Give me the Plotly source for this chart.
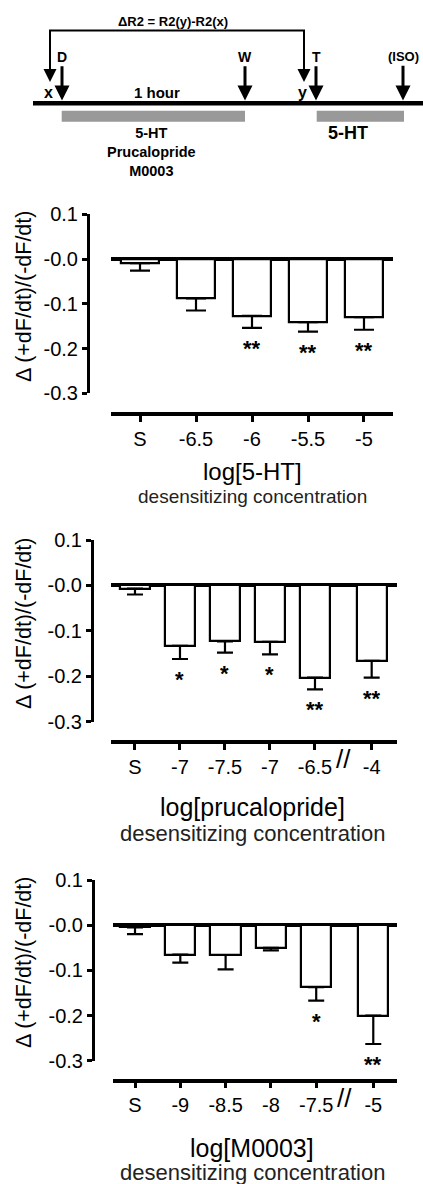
import plotly.graph_objects as go

W, H = 423, 1184
FONT = "Liberation Sans, Arial, Helvetica, sans-serif"

# ---------------- data ----------------
y_tickvals = [0.1, 0.0, -0.1, -0.2, -0.3]
y_ticktext = ["0.1", "-0.0", "-0.1", "-0.2", "-0.3"]
y_title = "Δ (+dF/dt)/(-dF/dt)"
subtitle = "desensitizing concentration"

p1_labels = ["S", "-6.5", "-6", "-5.5", "-5"]
p1_values = [-0.009, -0.088, -0.127, -0.141, -0.130]
p1_errors = [0.017, 0.027, 0.027, 0.021, 0.028]
p1_stars = ["", "", "**", "**", "**"]
p1_title = "log[5-HT]"

p2_labels = ["S", "-7", "-7.5", "-7", "-6.5", "-4"]
p2_values = [-0.007, -0.133, -0.123, -0.124, -0.203, -0.166]
p2_errors = [0.013, 0.029, 0.025, 0.028, 0.026, 0.037]
p2_stars = ["", "*", "*", "*", "**", "**"]
p2_title = "log[prucalopride]"

p3_labels = ["S", "-9", "-8.5", "-8", "-7.5", "-5"]
p3_values = [-0.005, -0.065, -0.066, -0.050, -0.137, -0.200]
p3_errors = [0.015, 0.018, 0.032, 0.006, 0.030, 0.063]
p3_stars = ["", "", "", "", "*", "**"]
p3_title = "log[M0003]"

diagram_formula = "ΔR2 = R2(y)-R2(x)"
diagram_events = ["D", "W", "T", "(ISO)"]
diagram_drugs = "5-HT<br>Prucalopride<br>M0003"
diagram_test = "5-HT"


def px(x):
    return x / W


def py(y):
    return 1 - y / H


fig = go.Figure()

panels = [
    dict(labels=p1_labels, values=p1_values, errors=p1_errors, stars=p1_stars, title=p1_title,
         xdom=(111, 393), ytop=214.3, ybot=393.3, yaxpos=88, xaxpos=414.3, xrange=(-0.518, 4.518),
         brk=None, width=0.69, cap=10, title_y=471.7, sub_y=496.7, title_size=24, sub_size=19,
         ytitle_y=297),
    dict(labels=p2_labels, values=p2_values, errors=p2_errors, stars=p2_stars, title=p2_title,
         xdom=(111, 396.7), ytop=540, ybot=721.7, yaxpos=92, xaxpos=742.3, xrange=(-0.533, 5.816),
         brk=5, width=0.67, cap=8, title_y=806.7, sub_y=833, title_size=25, sub_size=22,
         ytitle_y=624),
    dict(labels=p3_labels, values=p3_values, errors=p3_errors, stars=p3_stars, title=p3_title,
         xdom=(113, 396.7), ytop=880, ybot=1060.7, yaxpos=93, xaxpos=1080.7, xrange=(-0.486, 5.777),
         brk=5, width=0.67, cap=8, title_y=1148, sub_y=1172.7, title_size=25, sub_size=22,
         ytitle_y=963),
]
BREAK_GAP = 0.26


def note(x, y, text, font, **kw):
    fig.add_annotation(x=x, y=y, xref="paper", yref="paper", text=text, showarrow=False,
                       xanchor="center", yanchor="middle", font=font, **kw)


for k, p in enumerate(panels, start=1):
    n = len(p["labels"])
    xs = [i + (BREAK_GAP if (p["brk"] is not None and i >= p["brk"]) else 0) for i in range(n)]
    xa = "x" if k == 1 else f"x{k}"
    ya = "y" if k == 1 else f"y{k}"
    fig.add_trace(go.Bar(
        x=xs, y=p["values"], width=p["width"], xaxis=xa, yaxis=ya,
        marker=dict(color="white", line=dict(color="black", width=2.2)),
        error_y=dict(type="data", symmetric=False, array=[0] * n, arrayminus=p["errors"],
                     color="black", thickness=2.2, width=p["cap"]),
        showlegend=False, hoverinfo="skip",
    ))
    axis_common = dict(showgrid=False, showline=True, linecolor="black", ticks="outside",
                       tickcolor="black", automargin=False,
                       tickfont=dict(family=FONT, size=20, color="black"))
    fig.layout[("xaxis" if k == 1 else f"xaxis{k}")] = dict(
        axis_common, domain=[px(p["xdom"][0]), px(p["xdom"][1])], range=list(p["xrange"]),
        anchor="free", position=py(p["xaxpos"]), linewidth=3.5, ticklen=6, tickwidth=2.5,
        tickmode="array", tickvals=xs, ticktext=p["labels"], zeroline=False, fixedrange=True,
    )
    fig.layout[("yaxis" if k == 1 else f"yaxis{k}")] = dict(
        axis_common, domain=[py(p["ybot"]), py(p["ytop"])], range=[-0.3, 0.1],
        anchor="free", position=px(p["yaxpos"]), linewidth=3, ticklen=5, tickwidth=2.5,
        tickmode="array", tickvals=y_tickvals, ticktext=y_ticktext,
        zeroline=True, zerolinecolor="black", zerolinewidth=3.5, fixedrange=True,
    )
    # significance stars
    for xv, v, e, s in zip(xs, p["values"], p["errors"], p["stars"]):
        if s:
            fig.add_annotation(x=xv, y=v - e, xref=xa, yref=ya, text=s, showarrow=False,
                               xanchor="center", yanchor="top", yshift=-6,
                               font=dict(family=FONT, size=22, color="black", weight="bold"))
    # axis break mark
    if p["brk"] is not None:
        xb = (xs[p["brk"] - 1] + xs[p["brk"]]) / 2
        fig.add_annotation(x=xb, y=py(p["xaxpos"] + 17), xref=xa, yref="paper", text="//",
                           showarrow=False, xanchor="center", yanchor="middle",
                           font=dict(family=FONT, size=26, color="black"))
    # titles
    xmid = px(252)
    note(xmid, py(p["title_y"]), p["title"], dict(family=FONT, size=p["title_size"], color="black"))
    note(xmid, py(p["sub_y"]), subtitle, dict(family=FONT, size=p["sub_size"], color="#222222"))
    note(px(24), py(p["ytitle_y"]), y_title, dict(family=FONT, size=21.5, color="black"),
         textangle=-90)

# ---------------- protocol diagram ----------------
shapes = []
shapes.append(dict(type="line", xref="paper", yref="paper", x0=px(33), x1=px(423),
                   y0=py(103.3), y1=py(103.3), line=dict(color="black", width=4.5)))
shapes.append(dict(type="rect", xref="paper", yref="paper", x0=px(61.7), x1=px(245),
                   y0=py(121.7), y1=py(110.7), fillcolor="#999999", line=dict(width=0)))
shapes.append(dict(type="rect", xref="paper", yref="paper", x0=px(316.7), x1=px(404),
                   y0=py(121.7), y1=py(110.7), fillcolor="#999999", line=dict(width=0)))
bx0, bx1, btop, bend = 50, 304, 30.5, 74
shapes.append(dict(type="path", xref="paper", yref="paper",
                   path=f"M {px(bx0)},{py(bend)} L {px(bx0)},{py(btop)} L {px(bx1)},{py(btop)} L {px(bx1)},{py(bend)}",
                   line=dict(color="black", width=2)))
fig.update_layout(shapes=shapes)

bold = dict(family=FONT, color="black", weight="bold")

for bx in (bx0, bx1):
    fig.add_annotation(x=px(bx), y=py(82), xref="paper", yref="paper", text="", showarrow=True,
                       ax=0, ay=-16, arrowhead=2, arrowwidth=2, arrowsize=1.3, arrowcolor="black")

event_x = [62, 245, 316, 403]
for lbl, ex in zip(diagram_events, event_x):
    fig.add_annotation(x=px(ex), y=py(100.5), xref="paper", yref="paper", text=lbl,
                       showarrow=True, ax=0, ay=56.7 - 100.5, arrowhead=2, arrowwidth=3,
                       arrowsize=1, arrowcolor="black", xanchor="center", yanchor="middle",
                       font=dict(bold, size=14 if lbl != "(ISO)" else 13))

note(px(173), py(21.7), diagram_formula, dict(bold, size=13))
note(px(48), py(93), "x", dict(bold, size=16))
note(px(302), py(93), "y", dict(bold, size=16))
note(px(156.7), py(92), "1 hour", dict(bold, size=15))
note(px(151.7), py(152.5), diagram_drugs, dict(bold, size=14.5), align="center")
note(px(348), py(133.3), diagram_test, dict(bold, size=18))

fig.update_layout(width=W, height=H, margin=dict(l=0, r=0, t=0, b=0, autoexpand=False),
                  paper_bgcolor="white", plot_bgcolor="white", bargap=0, showlegend=False)

# remove the browser's default 8px body margin so the figure fills the window exactly
fig.write_html("out.html", config={"displayModeBar": False},
               post_script="document.body.style.margin='0px';")
